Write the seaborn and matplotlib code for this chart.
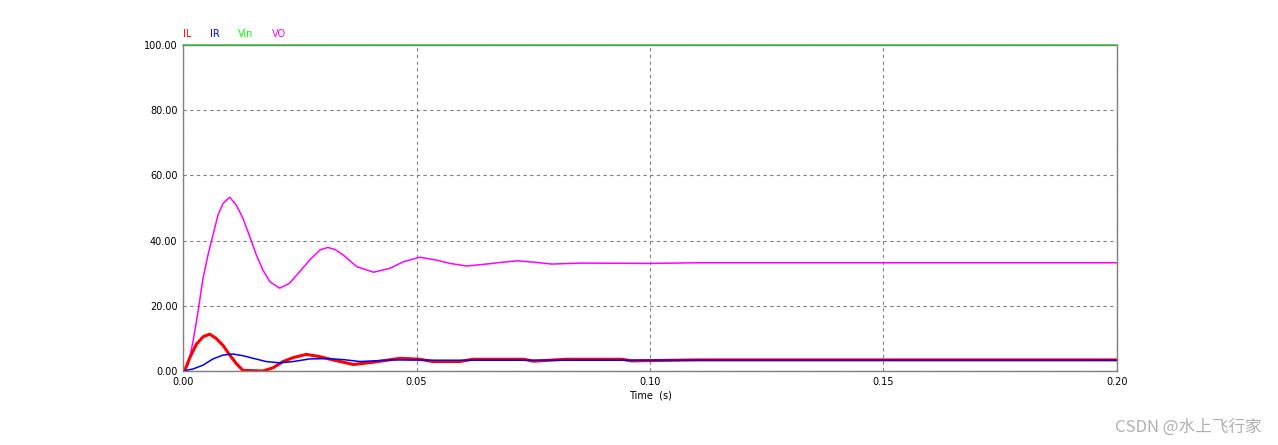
import matplotlib
matplotlib.use("Agg")
import matplotlib.pyplot as plt
import seaborn as sns

# Waveform data (time in s)
t_vo = [0, 0.00107, 0.00214, 0.00321, 0.00428, 0.00535, 0.00642, 0.0075, 0.00857, 0.0100,
        0.0114, 0.01285, 0.0143, 0.0157, 0.0171, 0.0186, 0.0207, 0.0228, 0.0250, 0.0271,
        0.0293, 0.0310, 0.0325, 0.0343, 0.0372, 0.0408, 0.0443, 0.0472, 0.0507, 0.0543,
        0.0572, 0.0607, 0.0643, 0.0680, 0.0715, 0.0750, 0.0790, 0.0850, 0.100, 0.110,
        0.120, 0.200]
vo = [0, 1.8, 9.0, 18.2, 28.4, 35.6, 41.7, 47.9, 51.4, 53.3,
      50.9, 46.8, 41.2, 35.6, 31.0, 27.4, 25.4, 26.9, 30.5, 34.0,
      37.1, 37.9, 37.3, 35.6, 32.0, 30.3, 31.5, 33.5, 34.9, 34.0,
      33.0, 32.2, 32.7, 33.3, 33.8, 33.4, 32.8, 33.1, 33.0, 33.2,
      33.2, 33.2]

t_il = [0, 0.0004, 0.0014, 0.00285, 0.0043, 0.0057, 0.0071, 0.0086, 0.0100, 0.0114,
        0.0128, 0.0171, 0.0193, 0.0214, 0.0236, 0.0264, 0.0293, 0.0321, 0.0343, 0.0365,
        0.0408, 0.0465, 0.0507, 0.0535, 0.0593, 0.0620, 0.0730, 0.0750, 0.0820, 0.0940,
        0.0960, 0.110, 0.200]
il = [0, 0.3, 3.9, 8.2, 10.5, 11.3, 10.0, 7.8, 4.9, 2.3,
      0.2, 0, 1.0, 2.9, 4.1, 5.1, 4.4, 3.4, 2.7, 2.0,
      2.7, 3.9, 3.6, 2.9, 2.9, 3.6, 3.6, 3.0, 3.6, 3.6,
      3.1, 3.4, 3.4]

t_ir = [0, 0.0021, 0.0043, 0.0064, 0.0086, 0.0107, 0.0128, 0.0150, 0.0178, 0.0207,
        0.0236, 0.0271, 0.0307, 0.0343, 0.0379, 0.0450, 0.0550, 0.200]
ir = [0, 0.6, 1.8, 3.7, 4.9, 5.2, 4.7, 3.9, 2.9, 2.5,
      2.9, 3.7, 3.8, 3.5, 2.9, 3.4, 3.3, 3.3]

t_vin = [0, 0.2]
vin = [100, 100]

x_ticks = [0, 0.05, 0.10, 0.15, 0.20]
y_ticks = [0, 20, 40, 60, 80, 100]

sns.set_style("white")
plt.rcParams["font.family"] = ["DejaVu Sans"]

fig = plt.figure(figsize=(12.78, 4.45), dpi=100)
ax = fig.add_axes([0.1432, 0.1663, 0.7308, 0.7326])

sns.lineplot(x=t_vo, y=vo, ax=ax, color="#ff00ff", linewidth=1.1)
sns.lineplot(x=t_il, y=il, ax=ax, color="#ff0000", linewidth=2.2)
sns.lineplot(x=t_ir, y=ir, ax=ax, color="#0000ff", linewidth=1.1)
sns.lineplot(x=t_vin, y=vin, ax=ax, color="#00ff00", linewidth=1.2, clip_on=False)

ax.set_xlim(0, 0.2)
ax.set_ylim(0, 100)
ax.set_xticks(x_ticks)
ax.set_yticks(y_ticks)
ax.set_xticklabels([f"{v:.2f}" for v in x_ticks], fontsize=7, color="black")
ax.set_yticklabels([f"{v:.2f}" for v in y_ticks], fontsize=7, color="black")
ax.tick_params(length=0, pad=4)
ax.grid(True, linestyle=(0, (3, 3)), color="#808080", linewidth=0.8)
for s in ax.spines.values():
    s.set_color("#808080")
    s.set_linewidth(1.0)
ax.set_xlabel("Time  (s)", fontsize=7, labelpad=3, color="black")

# legend labels at top left
labels = ["IL", "IR", "Vin", "VO"]
colors = ["#ff0000", "#0000ff", "#00ff00", "#ff00ff"]
xs = [183, 210, 238, 272]
for lab, c, xp in zip(labels, colors, xs):
    fig.text(xp / 1278, 1 - 34 / 445, lab, color=c, fontsize=7, va="center")

fig.text(1262 / 1278, 1 - 427 / 445, "CSDN @水上飞行家", color="#b0b0b0", fontsize=12,
         ha="right", va="center", family=["Noto Sans CJK SC", "DejaVu Sans"])

fig.savefig("out.png", dpi=100)
